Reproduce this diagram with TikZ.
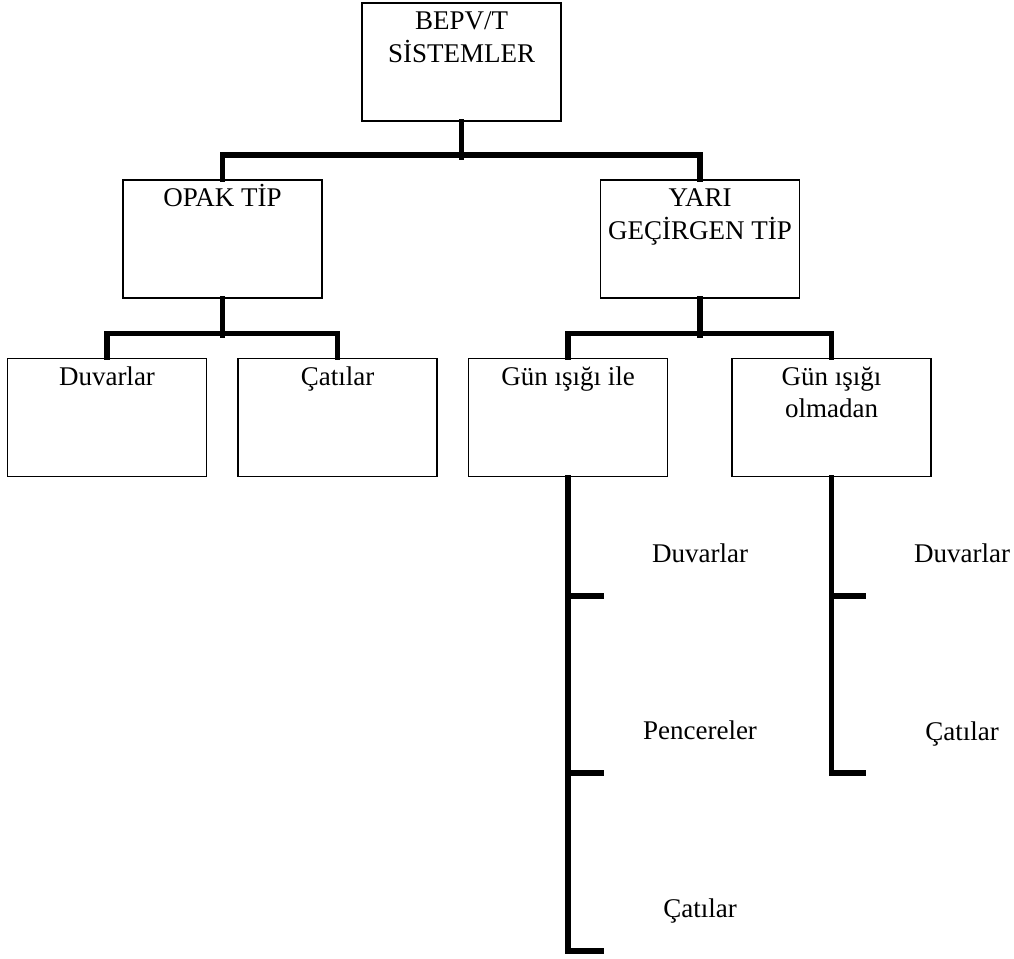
\documentclass[tikz,border=0pt]{standalone}
\usepackage{fontspec}
\setmainfont{Liberation Serif}
\newcommand{\flin}[1]{\rule{0pt}{18pt}\smash{#1}}
\begin{document}
\begin{tikzpicture}[x=1pt,y=-1pt,
  box/.style={draw=black,line width=1.8pt,minimum width=199pt,minimum height=118pt,inner sep=0pt},
  boxtext/.style={anchor=north,inner sep=0pt,align=center,yshift=-9.5pt,font=\fontsize{27}{32.5}\selectfont},
  leaf/.style={anchor=base,inner sep=0pt,font=\fontsize{27}{32.5}\selectfont},
  conn/.style={draw=black,line width=5.5pt,line join=miter,line cap=rect}]
\useasboundingbox (0,0) rectangle (1014,958);
% boxes
\node[box] (top)  at (461.5,62) {};
\node[box] (opak) at (222.5,239) {};
\node[box] (yari) at (700,239) {};
\node[box] (duv)  at (107,417.5) {};
\node[box] (cat)  at (337.5,417.5) {};
\node[box] (gile) at (568,417.5) {};
\node[box] (gol)  at (831.5,417.5) {};
% box texts
\node[boxtext] (ttop)  at (top.north)  {\flin{BEPV/T}\\SİSTEMLER};
\node[boxtext] (topak) at (opak.north) {\flin{OPAK TİP}};
\node[boxtext] (tyari) at (yari.north) {\flin{YARI}\\GEÇİRGEN TİP};
\node[boxtext] (tduv)  at (duv.north)  {\flin{Duvarlar}};
\node[boxtext] (tcat)  at (cat.north)  {\flin{Çatılar}};
\node[boxtext] (tgile) at (gile.north) {\flin{Gün ışığı ile}};
\node[boxtext] (tgol)  at (gol.north)  {\flin{Gün ışığı}\\olmadan};
% connectors
\draw[conn] (top.south) -- ++(0,35);
\draw[conn] (opak.north) -- ++(0,-24) -| (yari.north);
\draw[conn] (opak.south) -- ++(0,36);
\draw[conn] (duv.north) -- ++(0,-24) -| (cat.north);
\draw[conn] (yari.south) -- ++(0,36);
\draw[conn] (gile.north) -- ++(0,-24) -| (gol.north);
% lower trees
\coordinate (t1) at (601,596);
\coordinate (t2) at (601,773);
\coordinate (t3) at (601,951);
\coordinate (u1) at (863,596);
\coordinate (u2) at (863,773);
\draw[conn] (gile.south) |- (t3);
\draw[conn] (gile.south |- t1) -- (t1);
\draw[conn] (gile.south |- t2) -- (t2);
\draw[conn] (gol.south) |- (u2);
\draw[conn] (gol.south |- u1) -- (u1);
% leaf labels
\node[leaf] (l1) at (700,562) {Duvarlar};
\node[leaf] (l2) at (700,739) {Pencereler};
\node[leaf] (l3) at (700,917) {Çatılar};
\node[leaf] (r1) at (962,562) {Duvarlar};
\node[leaf] (r2) at (962,740) {Çatılar};
\end{tikzpicture}
\end{document}
